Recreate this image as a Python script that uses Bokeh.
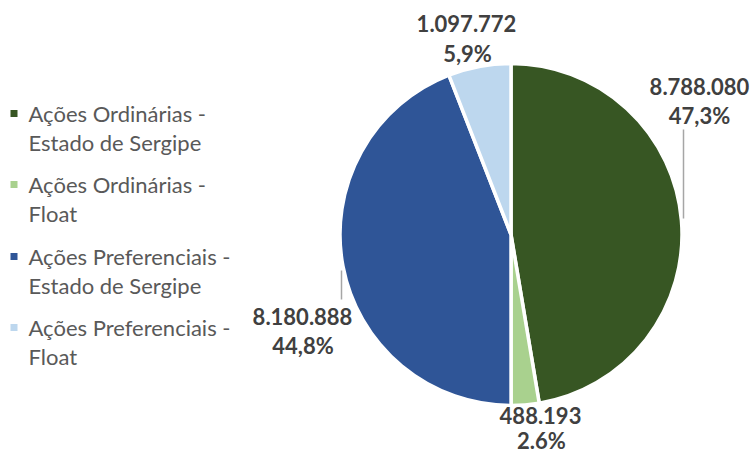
import math
from bokeh.plotting import figure
from bokeh.models import Range1d, ColumnDataSource
from bokeh.core.properties import value
from bokeh.embed import file_html
from bokeh.resources import INLINE

# ---- data ----
categories = [
    "Ações Ordinárias - Estado de Sergipe",
    "Ações Ordinárias - Float",
    "Ações Preferenciais - Estado de Sergipe",
    "Ações Preferenciais - Float",
]
values = [8788080, 488193, 8180888, 1097772]
pct_labels = ["47,3%", "2.6%", "44,8%", "5,9%"]
colors = ["#375623", "#A9D18E", "#2F5597", "#BDD7EE"]

# ---- layout (screen px in the 750x456 window) ----
W, H = 750, 456
def X(sx):
    return sx
def Y(sy):
    return H - sy

cx, cy, R = 510.5, 234.0, 171.0
# label centres (value line, percent line)
label_pos = [
    ((699, 85.5), (699, 114.5)),
    ((540, 415), (541, 440)),
    ((302, 315.5), (302.5, 345)),
    ((466, 22.5), (467, 52.5)),
]
leaders = [((683, 129), (683, 218)), None, ((341, 270), (341, 299)), None]

p = figure(width=W, height=H, output_backend="svg", toolbar_location=None,
           x_range=Range1d(0, W), y_range=Range1d(0, H), min_border=0)
p.axis.visible = False
p.grid.visible = False
p.outline_line_color = None
p.background_fill_color = "white"
p.border_fill_color = "white"

total = sum(values)
starts, ends = [], []
cum = 0.0
for v in values:
    starts.append(math.pi / 2 - cum / total * 2 * math.pi)
    cum += v
    ends.append(math.pi / 2 - cum / total * 2 * math.pi)

src = ColumnDataSource(dict(start=starts, end=ends, color=colors))
p.wedge(x=X(cx), y=Y(cy), radius=R, start_angle="start", end_angle="end",
        direction="clock", fill_color="color", line_color="white",
        line_width=3.5, source=src)

# leader lines
for ld in leaders:
    if ld:
        (x0, y0), (x1, y1) = ld
        p.line([X(x0), X(x1)], [Y(y0), Y(y1)], line_color="#A6A6A6", line_width=1.5)

font = value("Lato")
val_labels = [f"{v:,}".replace(",", ".") for v in values]
for i in range(len(values)):
    (vx, vy), (px_, py_) = label_pos[i]
    p.text(x=[X(vx), X(px_)], y=[Y(vy), Y(py_)], text=[val_labels[i], pct_labels[i]],
           text_align="center", text_baseline="middle", text_font=font,
           text_font_size="22px", text_font_style="bold", text_color="#404040")

# legend
leg_y = [113, 184, 256, 327]
for i, cat in enumerate(categories):
    a, b = cat.split(" - ")
    p.rect(x=X(13.5), y=Y(leg_y[i]), width=7, height=7, fill_color=colors[i],
           line_color=None)
    p.text(x=[X(28), X(28)], y=[Y(leg_y[i]), Y(leg_y[i] + 29)],
           text=[a + " -", b], text_align="left", text_baseline="middle",
           text_font=font, text_font_size="22px", text_color="#595959")

open("out.html", "w").write(file_html(p, INLINE))
